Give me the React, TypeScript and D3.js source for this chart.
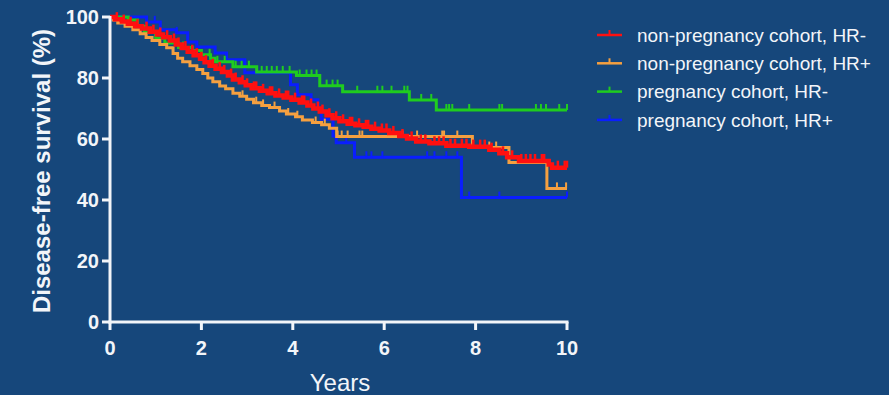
import React from "react";
import * as d3 from "d3";

// Kaplan-Meier step points: [years, survival %]
const redSteps: [number, number][] = [
  [0, 100], [0.11, 99.3], [0.26, 98.5], [0.39, 97.8], [0.55, 97], [0.7, 96.2], [0.87, 95.2],
  [1.03, 94.3], [1.16, 93.4], [1.31, 92.3], [1.44, 91], [1.57, 89.8], [1.7, 88.6], [1.83, 87.5],
  [1.97, 86.3], [2.07, 85.2], [2.18, 84], [2.31, 83], [2.45, 82], [2.58, 80.8], [2.69, 79.5],
  [2.84, 78.6], [2.97, 77.6], [3.1, 76.6], [3.28, 75.8], [3.45, 75], [3.62, 74.3], [3.8, 73.6],
  [3.97, 72.9], [4.15, 72], [4.32, 71], [4.45, 70], [4.59, 69], [4.74, 67.8], [4.87, 66.8],
  [5.02, 65.8], [5.2, 65], [5.37, 64.5], [5.55, 64], [5.72, 63.4], [5.9, 62.8], [6.11, 62],
  [6.33, 61], [6.5, 60.2], [6.7, 59.2], [6.99, 58.6], [7.36, 57.8], [7.86, 57.5], [8.3, 56.5],
  [8.52, 55.3], [8.69, 54], [8.95, 52.8], [9.6, 51.6], [9.67, 50.6], [10, 50.6],
];
const orangeSteps: [number, number][] = [
  [0, 100], [0.07, 99], [0.17, 98], [0.33, 97], [0.5, 95.8], [0.66, 94.5], [0.79, 93.3],
  [0.92, 92.3], [1.09, 91], [1.24, 89.9], [1.38, 88], [1.48, 86.5], [1.59, 85.3], [1.75, 84],
  [1.9, 82.8], [2.03, 81.5], [2.14, 80], [2.25, 78.8], [2.4, 77.4], [2.53, 76.5], [2.69, 75],
  [2.84, 74], [2.99, 73], [3.14, 71.9], [3.32, 71], [3.49, 70.3], [3.71, 69.2], [3.86, 68.2],
  [4.06, 67.3], [4.21, 66.2], [4.43, 65.4], [4.63, 64.7], [4.8, 63.5], [4.96, 60.8],
  [7.93, 57.2], [8.73, 52.3], [9.56, 43.8], [10, 43.8],
];
const greenSteps: [number, number][] = [
  [0, 100], [0.4, 99], [0.6, 97], [0.75, 95], [1.0, 93], [1.2, 91.5], [1.5, 90], [1.8, 89],
  [2.0, 87.6], [2.2, 86.5], [2.3, 85.3], [2.69, 83.7], [3.21, 82], [4.08, 80.8], [4.59, 77.5],
  [5.09, 75.5], [6.55, 72.8], [7.14, 69.5], [10, 69.5],
];
const blueSteps: [number, number][] = [
  [0, 100], [0.8, 98.4], [1.1, 95.8], [1.45, 94.8], [1.7, 91.8], [1.9, 90.2], [2.3, 88.2],
  [2.55, 86], [2.95, 81.7], [3.95, 77.8], [4.1, 74.5], [4.4, 72.9], [4.55, 70], [4.62, 66.5],
  [4.88, 61], [4.95, 58.8], [5.35, 54], [7.69, 40.8], [10, 40.8],
];

// censored observation times (years)
const redCensor = [0.15, 0.3, 0.45, 0.6, 0.8, 0.95, 1.1, 1.25, 1.4, 1.5, 1.65, 1.8, 1.9, 2.0, 2.1,
  2.25, 2.4, 2.5, 2.65, 2.75, 2.9, 3.0, 3.15, 3.2, 3.35, 3.5, 3.55, 3.7, 3.85, 3.9, 4.05, 4.2, 4.25,
  4.4, 4.55, 4.65, 4.8, 4.95, 5.1, 5.25, 5.3, 5.45, 5.6, 5.65, 5.8, 5.95, 6.05, 6.2, 6.4, 6.6, 6.8,
  6.9, 7.1, 7.2, 7.3, 7.45, 7.55, 7.7, 7.8, 7.95, 8.1, 8.2, 8.35, 8.6, 8.8, 9.0, 9.1, 9.2, 9.3,
  9.45, 9.5, 9.8, 9.95, 10];
const orangeCensor = [2.9, 3.2, 3.35, 3.6, 3.9, 4.1, 4.5, 4.7, 4.98, 5.07, 5.2, 5.46, 5.52, 6.4,
  6.72, 7.27, 7.31, 7.6, 8.3, 8.45, 9.78, 9.98];
const greenCensor = [1.0, 1.6, 2.18, 2.35, 2.51, 2.75, 2.88, 3.04, 3.32, 3.43, 3.54, 3.65, 3.78,
  3.93, 4.15, 4.3, 4.41, 4.52, 4.74, 4.87, 4.98, 5.41, 5.85, 5.96, 6.16, 6.44, 6.51, 6.81, 7.03,
  7.36, 7.42, 7.49, 7.86, 8.52, 8.58, 9.32, 9.43, 9.54, 9.83, 10];
const blueCensor = [0.98, 1.46, 5.17, 5.61, 5.72, 5.96, 6.94, 7.1, 7.36, 7.6, 7.86, 8.52, 10];

const seriesNames = [
  "non-pregnancy cohort, HR-",
  "non-pregnancy cohort, HR+",
  "pregnancy cohort, HR-",
  "pregnancy cohort, HR+",
];
const seriesColors = ["#ff1010", "#f5a040", "#1fcc1f", "#0a1eff"];

const xTicks = [0, 2, 4, 6, 8, 10];
const yTicks = [0, 20, 40, 60, 80, 100];

const W = 889;
const H = 395;
const BG = "#16477b";
const FG = "#f2f5f9";

export default function App() {
  const x = d3.scaleLinear().domain([0, 10]).range([110, 567]);
  const y = d3.scaleLinear().domain([0, 100]).range([322, 17]);
  const line = d3
    .line<[number, number]>()
    .x((d) => x(d[0]))
    .y((d) => y(d[1]))
    .curve(d3.curveStepAfter);

  const survAt = (steps: [number, number][], t: number) => {
    let s = steps[0][1];
    for (const p of steps) if (p[0] <= t) s = p[1];
    return s;
  };

  const series = [
    { steps: redSteps, censor: redCensor, color: seriesColors[0], w: 4.5, th: 7, tw: 2.5 },
    { steps: orangeSteps, censor: orangeCensor, color: seriesColors[1], w: 3, th: 6, tw: 2 },
    { steps: greenSteps, censor: greenCensor, color: seriesColors[2], w: 3, th: 6, tw: 2 },
    { steps: blueSteps, censor: blueCensor, color: seriesColors[3], w: 3, th: 6, tw: 2 },
  ];
  const drawOrder = [3, 2, 1, 0];

  return (
    <svg
      width={W}
      height={H}
      style={{ position: "absolute", left: 0, top: 0, display: "block" }}
      fontFamily="Liberation Sans, Arial, sans-serif"
    >
      <rect x={0} y={0} width={W} height={H} fill={BG} />

      {drawOrder.map((i) => {
        const s = series[i];
        return (
          <g key={i}>
            <path d={line(s.steps) || ""} fill="none" stroke={s.color} strokeWidth={s.w} />
            {s.censor.map((t, j) => {
              const cy = y(survAt(s.steps, t));
              return (
                <line
                  key={j}
                  x1={x(t)}
                  x2={x(t)}
                  y1={cy}
                  y2={cy - s.th}
                  stroke={s.color}
                  strokeWidth={s.tw}
                />
              );
            })}
          </g>
        );
      })}

      {/* axes */}
      <line x1={x(0)} x2={x(0)} y1={y(100) - 1} y2={y(0) + 1.5} stroke={FG} strokeWidth={3} />
      <line x1={x(0) - 1.5} x2={x(10) + 1.5} y1={y(0)} y2={y(0)} stroke={FG} strokeWidth={3} />
      {yTicks.map((v) => (
        <g key={v}>
          <line x1={x(0) - 8} x2={x(0)} y1={y(v)} y2={y(v)} stroke={FG} strokeWidth={3} />
          <text
            x={x(0) - 11}
            y={y(v)}
            dy="0.36em"
            textAnchor="end"
            fill={FG}
            fontSize={20}
            fontWeight="bold"
          >
            {v}
          </text>
        </g>
      ))}
      {xTicks.map((v) => (
        <g key={v}>
          <line x1={x(v)} x2={x(v)} y1={y(0)} y2={y(0) + 8} stroke={FG} strokeWidth={3} />
          <text x={x(v)} y={355} textAnchor="middle" fill={FG} fontSize={20} fontWeight="bold">
            {v}
          </text>
        </g>
      ))}
      <text x={340} y={391} textAnchor="middle" fill={FG} fontSize={24}>
        Years
      </text>
      <text
        transform={`translate(50,171) rotate(-90)`}
        textAnchor="middle"
        fill={FG}
        fontSize={24}
        fontWeight="bold"
      >
        Disease-free survival (%)
      </text>

      {/* legend */}
      {seriesNames.map((name, i) => {
        const ly = 35 + i * 28.3;
        return (
          <g key={name}>
            <line x1={597} x2={622} y1={ly} y2={ly} stroke={seriesColors[i]} strokeWidth={2.5} />
            <line x1={609.5} x2={609.5} y1={ly} y2={ly - 5} stroke={seriesColors[i]} strokeWidth={2} />
            <text x={637} y={ly} dy="0.35em" fill={FG} fontSize={19}>
              {name}
            </text>
          </g>
        );
      })}
    </svg>
  );
}
